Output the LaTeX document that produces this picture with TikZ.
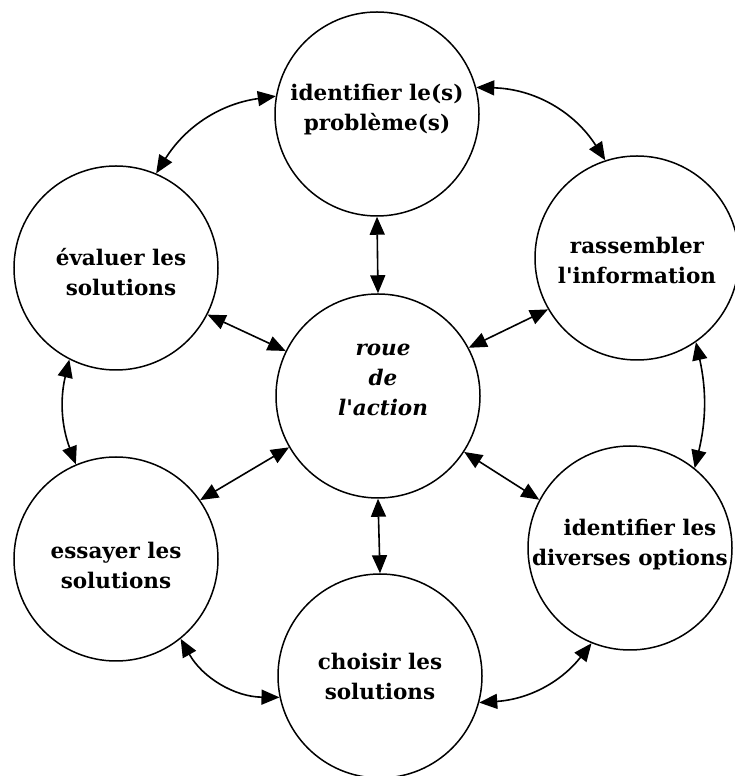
\documentclass[tikz,border=0pt]{standalone}
\usepackage{fontspec}
% plain family: keeps the straight apostrophe
\newfontfamily\captionfont{DejaVu Serif}
\usetikzlibrary{arrows.meta,calc}

\tikzset{
  ring/.style={circle, draw, line width=1.5pt, minimum size=204pt, inner sep=0pt},
  txt/.style={align=center, font=\captionfont\fontsize{21.5}{30}\selectfont\bfseries, inner sep=0pt},
  itxt/.style={txt, font=\captionfont\fontsize{21.5}{30}\selectfont\bfseries\itshape},
  link/.style={line width=1.6pt,
    {Triangle[length=18pt,width=15pt]}-{Triangle[length=18pt,width=15pt]}},
}

\begin{document}
\begin{tikzpicture}[x=1pt,y=1pt]
\useasboundingbox (0,0) rectangle (735,776);

% the seven stages of the wheel
\node[ring] (top) at (377,662) {};
\node[ring] (eval) at (116,508) {};
\node[ring] (rass) at (637,518) {};
\node[ring] (ctr) at (378,380) {};
\node[ring] (ess) at (116,217) {};
\node[ring] (opt) at (630,228) {};
\node[ring] (cho) at (380,100) {};

% their captions
\node[txt] (topT) at ($(top)+(0,4)$) {identifier le(s)\\problème(s)};
\node[txt] (evalT) at ($(eval)+(5,-4)$) {évaluer les\\solutions};
\node[txt] (rassT) at ($(rass)+(0,-2)$) {rassembler\\l'information};
\node[itxt] (ctrT) at ($(ctr)+(5,16)$) {roue\\de\\l'action};
\node[txt] (essT) at ($(ess)+(0,-6)$) {essayer les\\solutions};
\node[txt] (optT) at ($(opt)+(0,3)$) {\hspace*{20pt}identifier les\\diverses options};
\node[txt] (choT) at ($(cho)+(0,0)$) {choisir les\\solutions};

% outer ring of curved links
\draw[link] (top.170) to[bend right=25] (eval.67);
\draw[link] (top.15) to[bend left=28] (rass.108);
\draw[link] (rass.305) to[bend left=13] (opt.51);
\draw[link] (opt.248) to[bend left=24] (cho.345);
\draw[link] (ess.309) to[bend right=30] (cho.192);
\draw[link] (eval.243) to[bend right=17] (ess.113);

% spokes to the hub
\draw[link] (top.south) -- (ctr.north);
\draw[link] (ctr.south) -- (cho.north);
\draw[link] (eval.333) -- (ctr.154);
\draw[link] (rass.210) -- (ctr.28);
\draw[link] (ctr.327) -- (opt.152);
\draw[link] (ctr.210) -- (ess.35);
\end{tikzpicture}
\end{document}
